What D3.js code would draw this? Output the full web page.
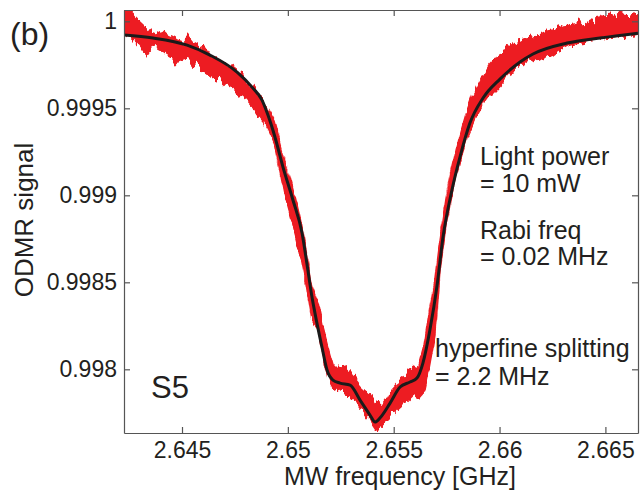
<!DOCTYPE html>
<html>
<head>
<meta charset="utf-8">
<script src="https://cdn.jsdelivr.net/npm/d3@7"></script>
<style>
html,body{margin:0;padding:0;background:#fff;}
svg{display:block;font-family:"Liberation Sans",Arial,Helvetica,sans-serif;}
</style>
</head>
<body>
<svg id="chart" width="640" height="490"></svg>
<script>
// ---- data ----
const xTicks = [2.645, 2.65, 2.655, 2.66, 2.665];
const xTickLabels = ["2.645", "2.65", "2.655", "2.66", "2.665"];
const yTicks = [0.998, 0.9985, 0.999, 0.9995, 1];
const yTickLabels = ["0.998", "0.9985", "0.999", "0.9995", "1"];

// measured ODMR data (red band): frequency, upper and lower edge of the noisy trace
const redFreq = [2.64225,2.64251,2.64276,2.64301,2.64326,2.64352,2.64377,2.64403,2.64428,2.64453,
2.64479,2.64504,2.64529,2.64555,2.64580,2.64605,2.64631,2.64656,2.64681,2.64707,
2.64732,2.64757,2.64783,2.64808,2.64833,2.64859,2.64884,2.64909,2.64935,2.64960,
2.64985,2.65011,2.65036,2.65062,2.65087,2.65112,2.65138,2.65163,2.65188,2.65214,
2.65239,2.65264,2.65290,2.65315,2.65340,2.65366,2.65391,2.65416,2.65442,2.65467,
2.65492,2.65518,2.65543,2.65568,2.65594,2.65619,2.65644,2.65670,2.65695,2.65720,
2.65746,2.65771,2.65797,2.65822,2.65847,2.65873,2.65898,2.65923,2.65949,2.65974,
2.65999,2.66025,2.66050,2.66075,2.66101,2.66126,2.66151,2.66177,2.66202,2.66227,
2.66253,2.66278,2.66303,2.66329,2.66354,2.66379,2.66405,2.66430,2.66455,2.66481,
2.66506,2.66532,2.66557,2.66582,2.66608,2.66633,2.66658];
const redHigh = [1.000065,1.000053,1.000024,0.999996,0.999967,0.999944,0.999932,0.999950,0.999921,0.999909,
0.999892,0.999881,0.999915,0.999875,0.999858,0.999846,0.999800,0.999789,0.999766,0.999754,
0.999731,0.999708,0.999680,0.999651,0.999616,0.999582,0.999542,0.999490,0.999432,0.999317,
0.999202,0.999099,0.998984,0.998846,0.998685,0.998484,0.998398,0.998254,0.998139,0.998024,
0.998024,0.998007,0.997984,0.997950,0.997909,0.997881,0.997852,0.997812,0.997794,0.997835,
0.997892,0.997927,0.997950,0.997984,0.998007,0.998024,0.998139,0.998340,0.998513,0.998754,
0.998973,0.999134,0.999271,0.999386,0.999490,0.999576,0.999634,0.999691,0.999743,0.999777,
0.999823,0.999835,0.999858,0.999881,0.999892,0.999904,0.999909,0.999927,0.999932,0.999944,
0.999950,0.999961,0.999973,0.999978,0.999984,0.999996,0.999984,1.000007,1.000001,1.000042,
1.000036,1.000042,1.000030,1.000047,1.000042,1.000053,1.000047];
const redLow = [0.999938,0.999915,0.999892,0.999863,0.999823,0.999835,0.999852,0.999835,0.999812,0.999794,
0.999766,0.999777,0.999789,0.999754,0.999743,0.999720,0.999697,0.999674,0.999662,0.999634,
0.999616,0.999593,0.999570,0.999547,0.999513,0.999467,0.999432,0.999375,0.999306,0.999157,
0.999001,0.998886,0.998771,0.998639,0.998484,0.998294,0.998254,0.998111,0.997967,0.997909,
0.997892,0.997869,0.997852,0.997823,0.997777,0.997737,0.997708,0.997662,0.997680,0.997708,
0.997737,0.997766,0.997794,0.997823,0.997852,0.997835,0.997869,0.998024,0.998197,0.998582,
0.998812,0.998984,0.999122,0.999237,0.999335,0.999409,0.999473,0.999530,0.999576,0.999605,
0.999639,0.999674,0.999708,0.999720,0.999743,0.999766,0.999777,0.999789,0.999777,0.999800,
0.999812,0.999835,0.999846,0.999863,0.999869,0.999875,0.999881,0.999892,0.999898,0.999904,
0.999909,0.999909,0.999915,0.999915,0.999921,0.999921,0.999927];

// fitted curve (black)
const fitFreq = [2.64226,2.64363,2.64524,2.64632,2.64760,2.64835,2.64878,2.64906,2.64939,2.64977,
2.65024,2.65067,2.65091,2.65114,2.65128,2.65161,2.65185,2.65213,2.65246,2.65294,
2.65341,2.65388,2.65412,2.65435,2.65483,2.65530,2.65577,2.65610,2.65638,2.65671,
2.65705,2.65733,2.65775,2.65813,2.65860,2.65922,2.66002,2.66097,2.66158,2.66319,
2.66474,2.66654];
const fitValue = [0.999921,0.999904,0.999863,0.999806,0.999708,0.999616,0.999547,0.999461,0.999335,0.999162,
0.998973,0.998783,0.998599,0.998415,0.998323,0.998128,0.997996,0.997938,0.997921,0.997909,
0.997823,0.997737,0.997697,0.997720,0.997806,0.997898,0.997927,0.997950,0.998036,0.998226,
0.998484,0.998760,0.999030,0.999220,0.999415,0.999559,0.999668,0.999766,0.999812,0.999875,
0.999904,0.999932];

const panelLabel = "(b)";
const sampleLabel = "S5";
const xTitle = "MW frequency [GHz]";
const yTitle = "ODMR signal";
const notes1 = ["Light power", "= 10 mW"];
const notes2 = ["Rabi freq", "= 0.02 MHz"];
const notes3 = ["hyperfine splitting", "= 2.2 MHz"];

// ---- layout ----
const L = 124, R = 638, T = 10, B = 433;
const svg = d3.select("#chart");
const x = d3.scaleLinear().domain([2.64226, 2.66654]).range([L, R]);
const y = d3.scaleLinear().domain([0.997634, 1.000065]).range([B, T]);

const defs = svg.append("defs");
defs.append("clipPath").attr("id", "clip")
  .append("rect").attr("x", L).attr("y", T).attr("width", R - L).attr("height", B - T);
// rough edge texture for the noisy trace (visual style only)
const flt = defs.append("filter").attr("id", "rough")
  .attr("x", "-5%").attr("y", "-5%").attr("width", "110%").attr("height", "110%");
flt.append("feTurbulence").attr("type", "fractalNoise").attr("baseFrequency", "0.22 0.05")
  .attr("numOctaves", 3).attr("seed", 7).attr("result", "noise");
flt.append("feColorMatrix").attr("in", "noise").attr("type", "matrix")
  .attr("values", "0 0 0 0 0.5  0 1 0 0 0  0 0 0 0 0  0 0 0 0 1").attr("result", "nm");
flt.append("feDisplacementMap").attr("in", "SourceGraphic").attr("in2", "nm")
  .attr("scale", 16).attr("xChannelSelector", "R").attr("yChannelSelector", "G");

const plot = svg.append("g").attr("clip-path", "url(#clip)");

const redData = redFreq.map((f, i) => ({f, hi: redHigh[i], lo: redLow[i]}));
const area = d3.area().x(d => x(d.f)).y0(d => y(d.lo)).y1(d => y(d.hi)).curve(d3.curveLinear);
plot.append("path").datum(redData).attr("d", area)
  .attr("fill", "#ed1c24").attr("stroke", "#ed1c24").attr("stroke-width", 1.5)
  .attr("stroke-linejoin", "round").attr("filter", "url(#rough)");

const fitData = fitFreq.map((f, i) => ({f, v: fitValue[i]}));
const line = d3.line().x(d => x(d.f)).y(d => y(d.v)).curve(d3.curveMonotoneX);
plot.append("path").datum(fitData).attr("d", line)
  .attr("fill", "none").attr("stroke", "#1a1a1a").attr("stroke-width", 3).attr("stroke-linejoin", "round");

// ---- axes ----
const axisColor = "#555";
const fontSize = 23;
function styleAxis(g) {
  g.selectAll(".domain").attr("stroke", axisColor).attr("stroke-width", 1.2);
  g.selectAll(".tick line").attr("stroke", axisColor).attr("stroke-width", 1.2);
  g.selectAll(".tick text").attr("fill", "#231f20").style("font-size", fontSize + "px")
    .style("font-family", '"Liberation Sans",Arial,Helvetica,sans-serif');
}
const gx = svg.append("g").attr("transform", `translate(0,${B})`)
  .call(d3.axisBottom(x).tickValues(xTicks).tickFormat((d, i) => xTickLabels[i]).tickSizeInner(-6).tickSizeOuter(0).tickPadding(9));
styleAxis(gx);
const gxt = svg.append("g").attr("transform", `translate(0,${T})`)
  .call(d3.axisTop(x).tickValues(xTicks).tickFormat("").tickSizeInner(-6).tickSizeOuter(0));
styleAxis(gxt);
const gy = svg.append("g").attr("transform", `translate(${L},0)`)
  .call(d3.axisLeft(y).tickValues(yTicks).tickFormat((d, i) => yTickLabels[i]).tickSizeInner(-6).tickSizeOuter(0).tickPadding(7));
styleAxis(gy);
const gyr = svg.append("g").attr("transform", `translate(${R},0)`)
  .call(d3.axisRight(y).tickValues(yTicks).tickFormat("").tickSizeInner(-6).tickSizeOuter(0));
styleAxis(gyr);

// ---- texts ----
const txtColor = "#231f20";
svg.append("text").attr("x", 10).attr("y", 45).attr("fill", txtColor)
  .style("font-size", "32px").text(panelLabel);
svg.append("text").attr("x", 400).attr("y", 485).attr("text-anchor", "middle").attr("fill", txtColor)
  .style("font-size", "25px").text(xTitle);
svg.append("text").attr("transform", "translate(33,220) rotate(-90)").attr("text-anchor", "middle").attr("fill", txtColor)
  .style("font-size", "26px").text(yTitle);
svg.append("text").attr("x", 151).attr("y", 398).attr("fill", txtColor)
  .style("font-size", "31px").text(sampleLabel);

function block(lines, x0, y0, dy) {
  lines.forEach((s, i) => svg.append("text").attr("x", x0).attr("y", y0 + i * dy)
    .attr("fill", txtColor).style("font-size", "25px").text(s));
}
block(notes1, 480, 165, 27);
block(notes2, 480, 239, 26);
block(notes3, 435, 357, 28);
</script>
</body>
</html>
